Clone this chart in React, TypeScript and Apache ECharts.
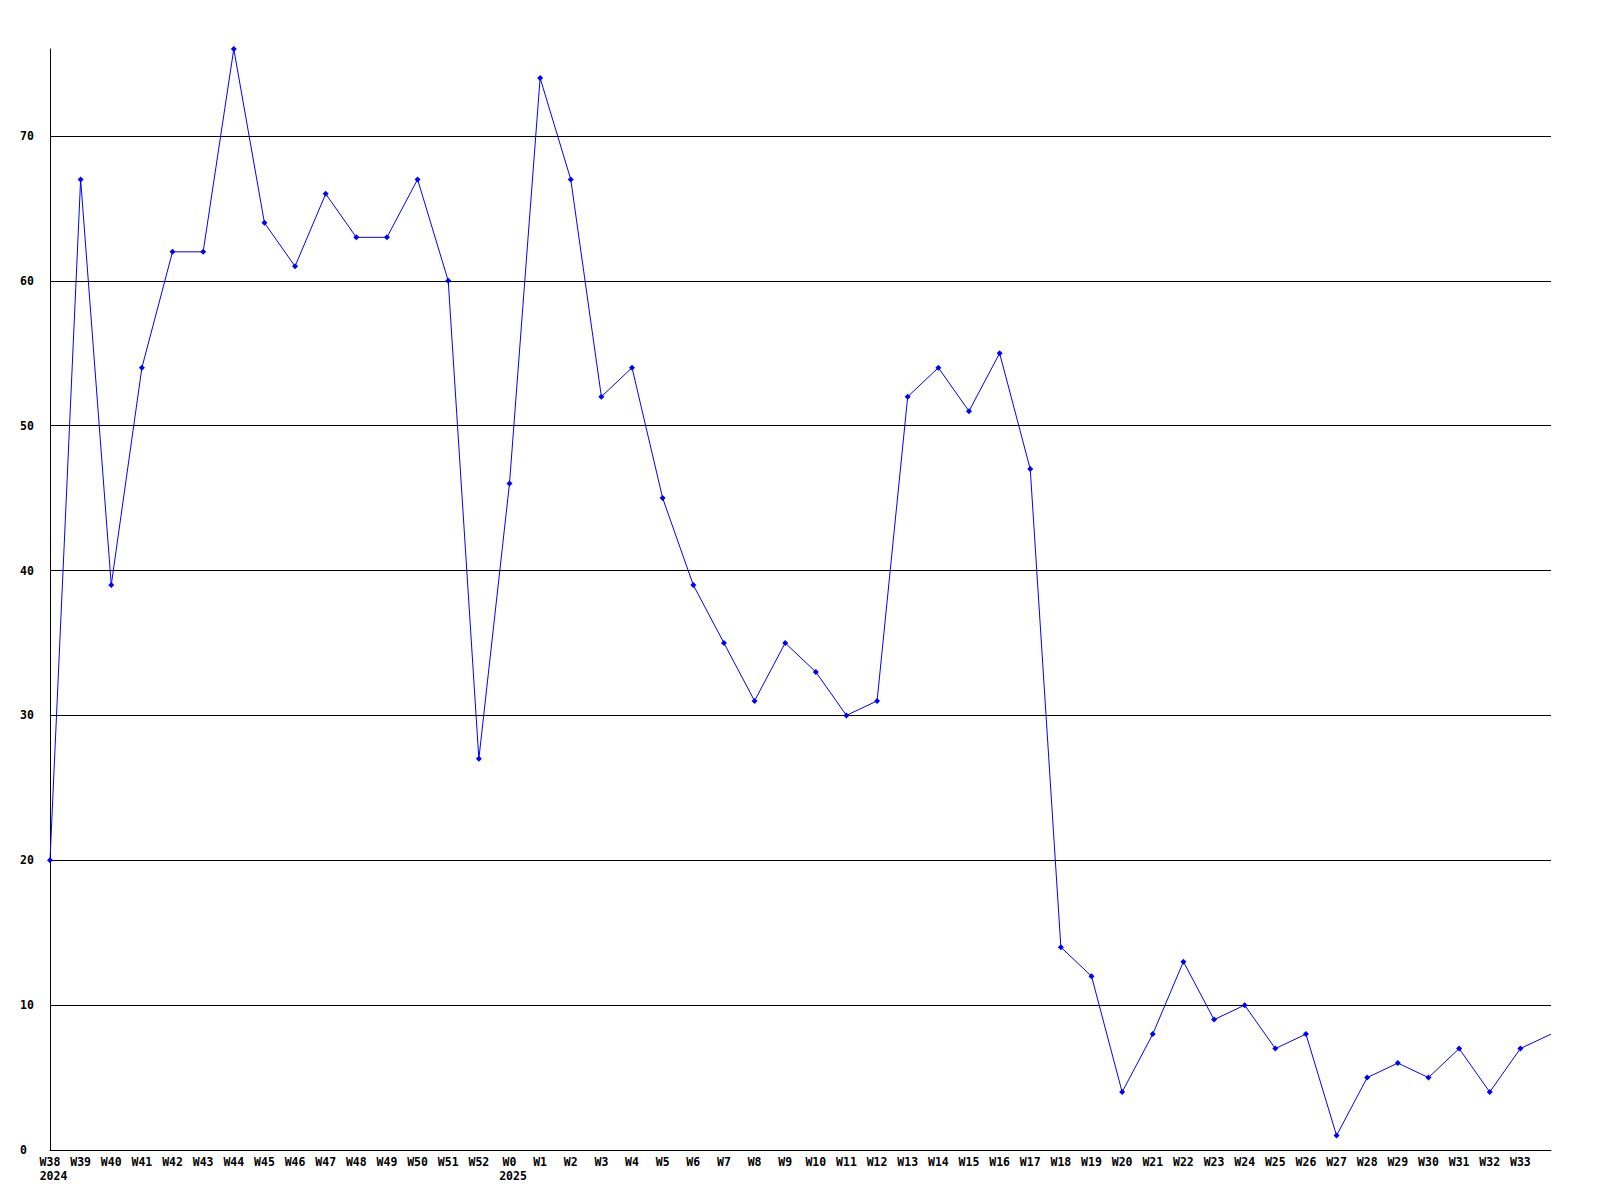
import React, { useEffect, useRef } from "react";
import * as echarts from "echarts";

const weeks: string[] = [
  "W38", "W39", "W40", "W41", "W42", "W43", "W44", "W45", "W46", "W47",
  "W48", "W49", "W50", "W51", "W52", "W0", "W1", "W2", "W3", "W4",
  "W5", "W6", "W7", "W8", "W9", "W10", "W11", "W12", "W13", "W14",
  "W15", "W16", "W17", "W18", "W19", "W20", "W21", "W22", "W23", "W24",
  "W25", "W26", "W27", "W28", "W29", "W30", "W31", "W32", "W33", "W34",
];
const yearMarks: Record<string, string> = { W38: "2024", W0: "2025" };
const values: number[] = [
  20, 67, 39, 54, 62, 62, 76, 64, 61, 66,
  63, 63, 67, 60, 27, 46, 74, 67, 52, 54,
  45, 39, 35, 31, 35, 33, 30, 31, 52, 54,
  51, 55, 47, 14, 12, 4, 8, 13, 9, 10,
  7, 8, 1, 5, 6, 5, 7, 4, 7, 8,
];
const gridTicks: number[] = [10, 20, 30, 40, 50, 60, 70];

const FONT = "'DejaVu Sans Mono', 'Liberation Mono', monospace";

export default function App() {
  const ref = useRef<HTMLDivElement>(null);
  useEffect(() => {
    if (!ref.current) return;
    const chart = echarts.init(ref.current, undefined, { renderer: "svg" });
    const last = weeks.length - 1;
    chart.setOption({
      animation: false,
      backgroundColor: "#ffffff",
      grid: { left: 50, right: 49, top: 49, bottom: 50, containLabel: false },
      xAxis: {
        type: "category",
        data: weeks,
        boundaryGap: false,
        axisLine: { show: true, lineStyle: { color: "#000", width: 1 } },
        axisTick: { show: false },
        splitLine: { show: false },
        axisLabel: {
          interval: 0,
          margin: 5,
          color: "#000",
          fontFamily: FONT,
          fontWeight: "bold",
          fontSize: 11.5,
          lineHeight: 14,
          formatter: (v: string, i: number) => {
            if (i === last) return "";
            const y = yearMarks[v];
            if (y) return `{w|${v}}\n{y|${y}}`;
            return v;
          },
          rich: {
            w: { align: "center", fontFamily: FONT, fontWeight: "bold", fontSize: 11.5, lineHeight: 14, color: "#000" },
            y: { align: "left", padding: [0, 0, 0, 7], fontFamily: FONT, fontWeight: "bold", fontSize: 11.5, lineHeight: 14, color: "#000" },
          },
        },
      },
      yAxis: {
        type: "value",
        min: 0,
        max: 76,
        interval: 10,
        axisLine: { show: true, lineStyle: { color: "#000", width: 1 } },
        axisTick: { show: false },
        splitLine: { show: false },
        axisLabel: {
          align: "left",
          margin: 30,
          color: "#000",
          fontFamily: FONT,
          fontWeight: "bold",
          fontSize: 11.5,
          formatter: (v: number) => (v % 10 === 0 ? String(v) : ""),
        },
      },
      series: [
        {
          type: "line",
          data: values.map((v, i) =>
            i === last ? { value: v, symbol: "none" } : v
          ),
          symbol: "diamond",
          symbolSize: 6,
          showAllSymbol: true,
          lineStyle: { color: "#0000ff", width: 1 },
          itemStyle: { color: "#0000ff" },
          z: 3,
          markLine: {
            silent: true,
            symbol: ["none", "none"],
            label: { show: false },
            lineStyle: { color: "#000", width: 1, type: "solid" },
            emphasis: { disabled: true },
            data: gridTicks.map((t) => ({ yAxis: t })),
            z: 1,
          },
        },
      ],
    });
    return () => chart.dispose();
  }, []);
  return (
    <div
      ref={ref}
      style={{ position: "absolute", left: 0, top: 0, width: 1600, height: 1200 }}
    />
  );
}
